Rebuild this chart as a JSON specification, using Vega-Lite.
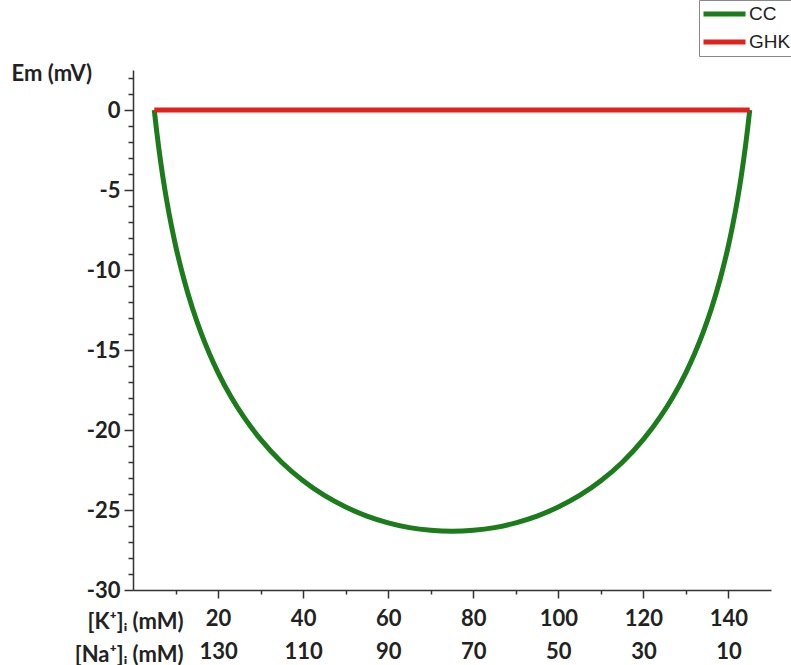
{
  "$schema": "https://vega.github.io/schema/vega-lite/v6.json",
  "width": 638,
  "height": 520,
  "autosize": "none",
  "padding": {"left": 133, "top": 70, "right": 20, "bottom": 75},
  "background": "white",
  "config": {"view": {"stroke": null}, "font": "Lato"},
  "data": {"values": [
    {"K": 5, "Em": 0, "series": "CC"},
    {"K": 5.5, "Em": -1.18, "series": "CC"},
    {"K": 6, "Em": -2.25, "series": "CC"},
    {"K": 7, "Em": -4.15, "series": "CC"},
    {"K": 8, "Em": -5.77, "series": "CC"},
    {"K": 9, "Em": -7.19, "series": "CC"},
    {"K": 10, "Em": -8.46, "series": "CC"},
    {"K": 12, "Em": -10.61, "series": "CC"},
    {"K": 14, "Em": -12.41, "series": "CC"},
    {"K": 16, "Em": -13.93, "series": "CC"},
    {"K": 18, "Em": -15.25, "series": "CC"},
    {"K": 20, "Em": -16.41, "series": "CC"},
    {"K": 23, "Em": -17.91, "series": "CC"},
    {"K": 26, "Em": -19.17, "series": "CC"},
    {"K": 30, "Em": -20.59, "series": "CC"},
    {"K": 35, "Em": -22.03, "series": "CC"},
    {"K": 40, "Em": -23.17, "series": "CC"},
    {"K": 45, "Em": -24.09, "series": "CC"},
    {"K": 50, "Em": -24.81, "series": "CC"},
    {"K": 55, "Em": -25.38, "series": "CC"},
    {"K": 60, "Em": -25.8, "series": "CC"},
    {"K": 65, "Em": -26.1, "series": "CC"},
    {"K": 70, "Em": -26.27, "series": "CC"},
    {"K": 75, "Em": -26.33, "series": "CC"},
    {"K": 80, "Em": -26.27, "series": "CC"},
    {"K": 85, "Em": -26.1, "series": "CC"},
    {"K": 90, "Em": -25.8, "series": "CC"},
    {"K": 95, "Em": -25.38, "series": "CC"},
    {"K": 100, "Em": -24.81, "series": "CC"},
    {"K": 105, "Em": -24.09, "series": "CC"},
    {"K": 110, "Em": -23.17, "series": "CC"},
    {"K": 115, "Em": -22.03, "series": "CC"},
    {"K": 120, "Em": -20.59, "series": "CC"},
    {"K": 124, "Em": -19.17, "series": "CC"},
    {"K": 127, "Em": -17.91, "series": "CC"},
    {"K": 130, "Em": -16.41, "series": "CC"},
    {"K": 132, "Em": -15.25, "series": "CC"},
    {"K": 134, "Em": -13.93, "series": "CC"},
    {"K": 136, "Em": -12.41, "series": "CC"},
    {"K": 138, "Em": -10.61, "series": "CC"},
    {"K": 140, "Em": -8.46, "series": "CC"},
    {"K": 141, "Em": -7.19, "series": "CC"},
    {"K": 142, "Em": -5.77, "series": "CC"},
    {"K": 143, "Em": -4.15, "series": "CC"},
    {"K": 144, "Em": -2.25, "series": "CC"},
    {"K": 144.5, "Em": -1.18, "series": "CC"},
    {"K": 145, "Em": 0, "series": "CC"},
    {"K": 5, "Em": 0, "series": "GHK"},
    {"K": 75, "Em": 0, "series": "GHK"},
    {"K": 145, "Em": 0, "series": "GHK"}
  ]},
  "mark": {"type": "line", "strokeWidth": 5, "interpolate": "monotone", "clip": false},
  "encoding": {
    "x": {
      "field": "K", "type": "quantitative",
      "scale": {"domain": [0, 150], "nice": false, "zero": false},
      "axis": {
        "values": [10, 20, 30, 40, 50, 60, 70, 80, 90, 100, 110, 120, 130, 140],
        "grid": false,
        "domainColor": "#333", "domainWidth": 1.5,
        "tickColor": "#333", "tickWidth": 1.5,
        "tickSize": {"condition": {"test": "datum.value % 20 === 0", "value": 8}, "value": 4},
        "labelExpr": "datum.value % 20 === 0 ? [toString(datum.value), toString(150 - datum.value)] : ''",
        "labelFont": "Lato", "labelFontWeight": "bold", "labelFontSize": 22, "labelColor": "#222",
        "labelLineHeight": 33, "labelPadding": 10, "labelOverlap": false, "labelFlush": false,
        "title": ["[K⁺]ᵢ (mM)", "[Na⁺]ᵢ (mM)"],
        "titleFont": "Lato", "titleFontWeight": "bold", "titleFontSize": 22, "titleColor": "#222",
        "titleLineHeight": 33, "titleAlign": "right", "titleBaseline": "top",
        "titleX": 50, "titleY": 21, "titleAngle": 0
      }
    },
    "y": {
      "field": "Em", "type": "quantitative",
      "scale": {"domain": [-30, 2.5], "nice": false, "zero": false},
      "axis": {
        "values": [-30, -29, -28, -27, -26, -25, -24, -23, -22, -21, -20, -19, -18, -17, -16, -15, -14, -13, -12, -11, -10, -9, -8, -7, -6, -5, -4, -3, -2, -1, 0, 1, 2],
        "grid": false,
        "domainColor": "#333", "domainWidth": 1.5,
        "tickColor": "#333", "tickWidth": 1.5,
        "tickSize": {"condition": {"test": "datum.value % 5 === 0", "value": 9}, "value": 5},
        "labelExpr": "datum.value % 5 === 0 ? toString(datum.value) : ''",
        "labelFont": "Lato", "labelFontWeight": "bold", "labelFontSize": 22, "labelColor": "#222",
        "labelPadding": 4, "labelOverlap": false, "labelFlush": false,
        "title": "Em (mV)",
        "titleFont": "Lato", "titleFontWeight": "bold", "titleFontSize": 22, "titleColor": "#222",
        "titleAngle": 0, "titleAlign": "left", "titleBaseline": "middle",
        "titleX": -122, "titleY": 3
      }
    },
    "color": {
      "field": "series", "type": "nominal",
      "scale": {"domain": ["CC", "GHK"], "range": ["#1c7c1c", "#e3211c"]},
      "legend": {
        "title": null, "orient": "none", "legendX": 566, "legendY": -70,
        "symbolType": "stroke", "symbolSize": 1764, "symbolStrokeWidth": 5,
        "clipHeight": 24,
        "labelFont": "Liberation Sans", "labelFontSize": 19, "labelColor": "#222",
        "strokeColor": "#888", "padding": 2, "rowPadding": 4, "labelOffset": 1
      }
    }
  }
}
